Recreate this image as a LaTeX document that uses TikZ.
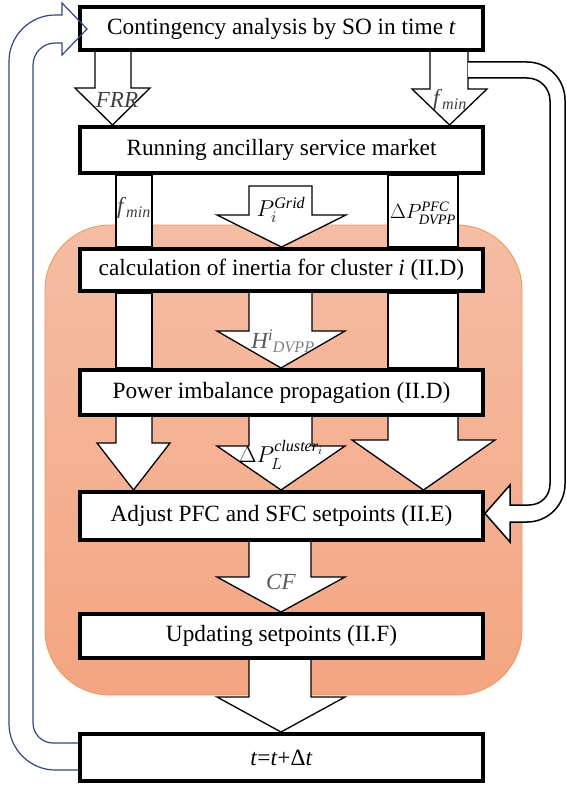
\RequirePackage{fix-cm}
\documentclass[tikz,border=0pt]{standalone}
\usepackage{amsmath}
\usepackage{fontspec}
\setmainfont{Liberation Serif}
\pgfdeclarelayer{bg}
\pgfdeclarelayer{mid}
\pgfsetlayers{bg,mid,main}
\definecolor{orTop}{HTML}{F5BDA4}
\definecolor{orBot}{HTML}{F4A582}
\definecolor{orEdge}{HTML}{F09A60}
\definecolor{navy}{HTML}{2E4A7D}
\definecolor{lblA}{HTML}{404040}
\definecolor{lblB}{HTML}{595959}
\definecolor{lblC}{HTML}{808080}
\begin{document}
\begin{tikzpicture}[x=1pt,y=-1pt,
  box/.style={draw=black,line width=4pt,fill=white,minimum width=403pt,inner sep=0pt,font=\fontsize{23.3}{27}\selectfont},
  barrow/.style={draw=black,line width=1.3pt,fill=white,line join=miter},
  lbl/.style={inner sep=0pt,font=\fontsize{23}{27}\selectfont}]
\useasboundingbox (0,0) rectangle (566,789);
\begin{pgfonlayer}{bg}
\shade[top color=orTop,bottom color=orBot,rounded corners=65pt] (45,225) rectangle (522,695);
\draw[orEdge,line width=0.9pt,rounded corners=65pt] (45,225) rectangle (522,695);
\end{pgfonlayer}
% boxes
\node[box,minimum height=43pt] (b1) at (281.5,28.5) {Contingency analysis by SO in time \textit{t}};
\node[box,minimum height=46pt] (b2) at (281.5,150) {Running ancillary service market};
\node[box,minimum height=42pt] (b3) at (281.5,270) {calculation of inertia for cluster \textit{i} (II.D)};
\node[box,minimum height=45pt] (b4) at (281.5,392.5) {Power imbalance propagation (II.D)};
\node[box,minimum height=48pt] (b5) at (281.5,516) {Adjust PFC and SFC setpoints (II.E)};
\node[box,minimum height=44pt] (b6) at (281.5,636) {Updating setpoints (II.F)};
\node[box,minimum height=47pt] (b7) at (281.5,757.5) {\textit{t}=\textit{t}+Δ\textit{t}};
\begin{pgfonlayer}{mid}
% FRR and f_min from b1 to b2
\draw[barrow] (95,0 |- b1.south) -- (95,88) -- (75,88) -- (112.5,0 |- b2.north) -- (150,88) -- (131,88) -- (131,0 |- b1.south);
\draw[barrow] (430,0 |- b1.south) -- (430,89) -- (412,89) -- (449.5,0 |- b2.north) -- (487,89) -- (468,89) -- (468,0 |- b1.south);
% left column
\draw[barrow] (116,0 |- b2.south) rectangle (152,0 |- b3.north);
\draw[barrow] (116,0 |- b3.south) rectangle (152,0 |- b4.north);
\draw[barrow] (116,0 |- b4.south) -- (116,443) -- (97,443) -- (133.5,0 |- b5.north) -- (170,443) -- (152,443) -- (152,0 |- b4.south);
% right column
\draw[barrow] (388,0 |- b2.south) rectangle (458,0 |- b3.north);
\draw[barrow] (388,0 |- b3.south) rectangle (458,0 |- b4.north);
\draw[barrow] (388,0 |- b4.south) -- (388,440) -- (352,440) -- (423.5,0 |- b5.north) -- (495,440) -- (458,440) -- (458,0 |- b4.south);
% middle column
\draw[barrow] (249,186) -- (249,215) -- (217,215) -- (281.5,0 |- b3.north) -- (346,215) -- (312,215) -- (312,186) -- cycle;
\draw[barrow] (249,0 |- b3.south) -- (249,331) -- (217,331) -- (281,0 |- b4.north) -- (345,331) -- (312,331) -- (312,0 |- b3.south);
\draw[barrow] (249,0 |- b4.south) -- (249,446) -- (217,446) -- (281,0 |- b5.north) -- (345,446) -- (312,446) -- (312,0 |- b4.south);
\draw[barrow] (249,0 |- b5.south) -- (249,577) -- (217,577) -- (281,0 |- b6.north) -- (345,577) -- (311,577) -- (311,0 |- b5.south);
\draw[barrow] (249,0 |- b6.south) -- (249,697) -- (217,697) -- (281,0 |- b7.north) -- (345,697) -- (311,697) -- (311,0 |- b6.south);
% right feedback arrow b1 -> b5
\draw[barrow,line width=1.5pt] (468,62) -- (527,62) .. controls (548,62) and (565,79) .. (565,100) -- (565,484) .. controls (565,505) and (548,522) .. (527,522) -- (510,522) -- (510,542) -- (b5.east |- 0,513.5) -- (510,485) -- (510,505) -- (529,505) .. controls (541,505) and (550,496) .. (550,484) -- (550,101) .. controls (550,88) and (540,78) .. (527,78) -- (468,78);
\end{pgfonlayer}
% left feedback arrow b7 -> b1
\draw[navy,line width=1.2pt,line join=miter] (b7.west |- 0,770) -- (55,770) .. controls (30,770) and (9,749) .. (9,724) -- (9,61) .. controls (9,36) and (30,15) .. (55,15) -- (62,15) -- (62,3) -- (87,29) -- (62,55) -- (62,43) -- (55,43) .. controls (43,43) and (33,53) .. (33,65) -- (33,723) .. controls (33,734) and (42,743) .. (53,743) -- (b7.west |- 0,743);
% labels
\node[lbl,text=lblA] (lFRR) at (117,100) {\textit{FRR}};
\node[lbl,text=lblA] (lfminA) at (450,100) {\textit{f}$_{\textit{min}}$};
\node[lbl,text=lblA] (lfminB) at (134,208) {\textit{f}$_{\textit{min}}$};
\node[lbl] (lPg) at (281,210) {$P_i^{\mathit{Grid}}$};
\node[lbl,font=\fontsize{20.5}{24}\selectfont] (ldP) at (423,213) {$\Delta P_{\mathit{DVPP}}^{\mathit{PFC}}$};
\node[lbl,text=lblB] (lH) at (283,341) {${\textit{H}^{\textit{i}}}_{\textcolor{lblC}{\textit{DVPP}}}$};
\node[lbl] (ldPL) at (281,455) {$\Delta P_L^{\mathit{cluster}_i}$};
\node[lbl,text=lblB] (lCF) at (281,582) {\textit{CF}};
\end{tikzpicture}
\end{document}
